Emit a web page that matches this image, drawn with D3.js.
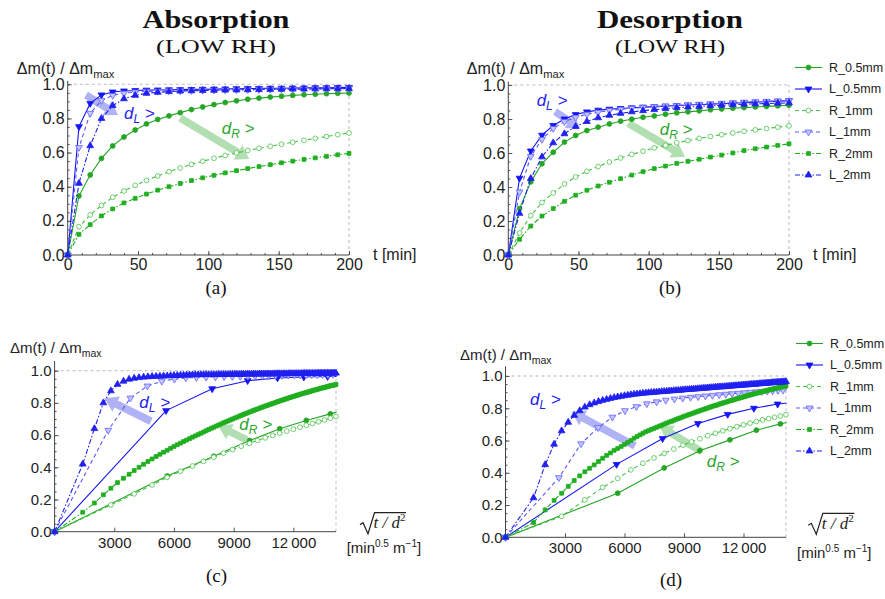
<!DOCTYPE html>
<meta charset="utf-8">
<style>

body {
  margin: 0;
  background: #fff;
}

text {
  font-family: "Liberation Sans", Arial, sans-serif;
}

.serif {
  font-family: "Liberation Serif", "Times New Roman", serif;
}

</style>
<svg width="885" height="599"></svg>
<script src="https://d3js.org/d3.v7.min.js"></script>
<script>

// sampling times (min), shared by every series
var minutes = [0,8,16,24,32,40,48,56,64,72,80,88,96,104,112,120,128,136,144,152,160,168,176,184,192,200,
  208,216,224,232,240,248,256,264,272,280,288,296,304,312,320,328,336,344,352,360,368,376,384,392,400,
  408,416,424,432,440,448,456,464,472,480,488,496,504,512,520,528,536,544,552,560,568,576,584,592,600,
  608,616,624,632,640,648,656,664,672,680,688,696,704,712,720,728,736,744,752,760,768,776,784,792,800];

var seriesNames = ["R_0.5mm", "L_0.5mm", "R_1mm", "L_1mm", "R_2mm", "L_2mm"];
var thicknessMm = [0.5, 0.505, 1.0, 1.05, 2.0, 2.0];

// absorption, dm(t)/dm_max
var absR05 = [0,0.346,0.469,0.566,0.639,0.691,0.732,0.768,0.794,0.815,0.834,0.852,0.867,0.881,0.893,0.903,0.912,0.919,0.925,0.930,0.935,0.939,0.942,0.945,0.947,0.949];
var absL05 = [0,0.752,0.888,0.938,0.955,0.961,0.964,0.966,0.967,0.968,0.969,0.970,0.971,0.972,0.973,0.974,0.975,0.976,0.977,0.977,0.978,0.979,0.980,0.980,0.981,0.982];
var absR1 = [0,0.166,0.235,0.290,0.338,0.375,0.408,0.437,0.463,0.488,0.510,0.531,0.549,0.567,0.583,0.598,0.612,0.625,0.637,0.649,0.661,0.672,0.683,0.694,0.705,0.715];
var absL1 = [0,0.630,0.830,0.905,0.935,0.948,0.955,0.958,0.960,0.962,0.963,0.964,0.965,0.966,0.967,0.968,0.969,0.970,0.971,0.972,0.972,0.973,0.974,0.975,0.975,0.976,0.976,0.977,0.977];
var absR2 = [0,0.121,0.178,0.229,0.270,0.305,0.332,0.357,0.380,0.400,0.419,0.436,0.452,0.467,0.481,0.494,0.506,0.518,0.529,0.540,0.550,0.560,0.569,0.578,0.587,0.595,
  0.603,0.611,0.619,0.627,0.635,0.642,0.649,0.656,0.663,0.669,
  0.676,0.682,0.688,0.694,0.700,0.706,0.711,0.717,0.722,0.728,
  0.733,0.738,0.743,0.748,0.753,0.758,0.762,0.767,0.771,0.776,
  0.780,0.784,0.788,0.792,0.796,0.800,0.804,0.808,0.812,0.816,
  0.819,0.823,0.826,0.830,0.833,0.837,0.840,0.843,0.846,0.850,
  0.853,0.856,0.859,0.862,0.865,0.867,0.870,0.873,0.876,0.879,
  0.881,0.884,0.886,0.889,0.892,0.894,0.896,0.899,0.901,0.904,
  0.906,0.908,0.910,0.912,0.915];
var absL2 = [0,0.420,0.640,0.800,0.875,0.915,0.935,0.947,0.953,0.957,0.960,0.962,0.964,0.965,0.966,0.967,0.968,0.969,0.970,0.971,0.972,0.972,0.973,0.974,0.974,0.975,
  0.975,0.975,0.976,0.976,0.976,0.976,0.976,0.976,0.977,0.977,
  0.977,0.977,0.977,0.977,0.978,0.978,0.978,0.978,0.978,0.978,
  0.979,0.979,0.979,0.979,0.979,0.979,0.979,0.980,0.980,0.980,
  0.980,0.980,0.980,0.980,0.980,0.981,0.981,0.981,0.981,0.981,
  0.981,0.981,0.981,0.982,0.982,0.982,0.982,0.982,0.982,0.982,
  0.982,0.982,0.983,0.983,0.983,0.983,0.983,0.983,0.983,0.983,
  0.983,0.984,0.984,0.984,0.984,0.984,0.984,0.984,0.984,0.984,
  0.984,0.985,0.985,0.985,0.985];

// desorption, dm(t)/dm_max
var desR05 = [0,0.273,0.430,0.537,0.604,0.664,0.703,0.732,0.752,0.771,0.787,0.799,0.810,0.818,0.828,0.836,0.842,0.848,0.854,0.859,0.863,0.867,0.871,0.874,0.877,0.881];
var desL05 = [0,0.452,0.612,0.705,0.762,0.800,0.826,0.842,0.852,0.858,0.862,0.866,0.870,0.873,0.876,0.879,0.882,0.885,0.887,0.890,0.893,0.896,0.899,0.902,0.905,0.908];
var desR1 = [0,0.130,0.232,0.309,0.365,0.418,0.459,0.492,0.520,0.547,0.571,0.592,0.611,0.630,0.645,0.660,0.673,0.686,0.697,0.708,0.718,0.728,0.736,0.744,0.752,0.760];
var desL1 = [0,0.370,0.580,0.680,0.745,0.785,0.810,0.828,0.840,0.850,0.857,0.863,0.868,0.872,0.876,0.880,0.884,0.887,0.890,0.893,0.896,0.899,0.902,0.904,0.906,0.908,0.910,0.912,0.914];
var desR2 = [0,0.092,0.170,0.229,0.273,0.316,0.352,0.381,0.406,0.428,0.449,0.470,0.490,0.508,0.523,0.539,0.551,0.563,0.576,0.588,0.600,0.614,0.625,0.635,0.645,0.654,
  0.661,0.669,0.675,0.682,0.689,0.695,0.702,0.708,0.714,0.719,
  0.725,0.731,0.736,0.741,0.747,0.752,0.757,0.762,0.766,0.771,
  0.776,0.780,0.785,0.789,0.793,0.798,0.802,0.806,0.810,0.814,
  0.817,0.821,0.825,0.829,0.832,0.836,0.839,0.843,0.846,0.849,
  0.852,0.856,0.859,0.862,0.865,0.868,0.871,0.874,0.877,0.880,
  0.882,0.885,0.888,0.890,0.893,0.896,0.898,0.901,0.903,0.906,
  0.908,0.910,0.913,0.915,0.917,0.919,0.922,0.924,0.926,0.928,
  0.930,0.932,0.934,0.936,0.938];
var desL2 = [0,0.245,0.450,0.577,0.660,0.713,0.756,0.785,0.807,0.822,0.833,0.842,0.849,0.855,0.861,0.866,0.870,0.874,0.878,0.881,0.884,0.887,0.889,0.891,0.893,0.895,
  0.896,0.898,0.899,0.900,0.902,0.903,0.904,0.905,0.907,0.908,
  0.909,0.910,0.911,0.912,0.914,0.915,0.916,0.917,0.918,0.919,
  0.920,0.921,0.922,0.923,0.924,0.925,0.926,0.927,0.928,0.929,
  0.930,0.931,0.932,0.933,0.933,0.934,0.935,0.936,0.937,0.938,
  0.939,0.940,0.940,0.941,0.942,0.943,0.944,0.945,0.945,0.946,
  0.947,0.948,0.949,0.949,0.950,0.951,0.952,0.953,0.953,0.954,
  0.955,0.956,0.956,0.957,0.958,0.959,0.959,0.960,0.961,0.961,
  0.962,0.963,0.964,0.964,0.965];

var absorption = [absR05, absL05, absR1, absL1, absR2, absL2];
var desorption = [desR05, desL05, desR1, desL1, desR2, desL2];

var yTicks = [0, 0.2, 0.4, 0.6, 0.8, 1.0];
var timeTicks = [0, 50, 100, 150, 200];
var scaledTicks = [3000, 6000, 9000, 12000];

var svg = d3.select("svg");

var styles = [
  {color: "#25a525", dash: null, shape: "circle", fill: "#25a525", stroke: "#25a525", size: 19},
  {color: "#1414f5", dash: null, shape: "down", fill: "#1414f5", stroke: "#1414f5", size: 20},
  {color: "#46c046", dash: "4,3", shape: "circle", fill: "#fff", stroke: "#4cc44c", size: 18},
  {color: "#5858ff", dash: "4,3", shape: "down", fill: "#c4c4ff", stroke: "#6464ff", size: 20},
  {color: "#1fae1f", dash: "5,2,1.5,2", shape: "square", fill: "#1fae1f", stroke: "#1fae1f", size: 15},
  {color: "#2020f0", dash: "5,2,1.5,2", shape: "up", fill: "#2020f0", stroke: "#2020f0", size: 20}
];

var scaledMax = Math.sqrt(200) / 0.001;

var panels = [
  {id: "a", values: absorption, scaled: false, xMax: 200, box: [67.7, 349, 255, 84.3], yTop: 1.02, font: 16, xPad: 3.6,
   ytitle: [16.7, 74], xtitle: [373, 260],
   arrows: [[13, 0.937, 35.8, 0.82, "L"], [80, 0.803, 129, 0.562, "R"]],
   notes: [[40, 0.795, "L"], [109.5, 0.709, "R"]]},
  {id: "b", values: desorption, scaled: false, xMax: 200, box: [508.3, 789, 255, 85], yTop: 1.02, font: 16, xPad: 3.6,
   ytitle: [466.7, 74], xtitle: [813, 260],
   arrows: [[33.3, 0.843, 51.1, 0.745, "L"], [85.5, 0.775, 125.9, 0.578, "R"]],
   notes: [[20.2, 0.876, "L"], [107.9, 0.706, "R"]]},
  {id: "c", values: absorption, scaled: true, xMax: scaledMax, box: [54.6, 336, 531.7, 370.7], yTop: 1.06, font: 15, xPad: 5.5,
   ytitle: [10, 353], radical: [360, 512.7], units: [346.7, 553],
   arrows: [[4844, 0.686, 2507, 0.829, "L"], [9653, 0.57, 8226, 0.657, "R"]],
   notes: [[4256, 0.766, "L"], [9281, 0.632, "R"]]},
  {id: "d", values: desorption, scaled: true, xMax: scaledMax, box: [505.5, 786, 537.3, 376], yTop: 1.06, font: 15, xPad: 5,
   ytitle: [460, 360], radical: [808.3, 513.3], units: [797, 558],
   arrows: [[6529, 0.566, 3338, 0.779, "L"], [9892, 0.531, 7755, 0.69, "R"]],
   notes: [[1235, 0.82, "L"], [10144, 0.438, "R"]]}
];

var arrowFill = {L: "#a6abf4", R: "#a9dca9"};
var noteColor = {L: "#2424ef", R: "#2ca62c"};

function markerPath(shape, size) {
  var type = shape === "circle" ? d3.symbolCircle : shape === "square" ? d3.symbolSquare : d3.symbolTriangle;
  return d3.symbol().type(type).size(size)();
}

function drawMarker(g, s, px, py) {
  g.append("path")
      .attr("d", markerPath(s.shape, s.size))
      .attr("transform", "translate(" + px + "," + py + ")" + (s.shape === "down" ? " rotate(180)" : ""))
      .attr("fill", s.fill)
      .attr("stroke", s.stroke)
      .attr("stroke-width", 0.8);
}

function drawArrow(g, x1, y1, x2, y2, color) {
  var dx = x2 - x1, dy = y2 - y1, len = Math.sqrt(dx * dx + dy * dy);
  var ux = dx / len, uy = dy / len, nx = -uy, ny = ux;
  var w = 3.8, hw = 8.5, hl = 13;
  var bx = x2 - ux * hl, by = y2 - uy * hl;
  var pts = [
    [x1 + nx * w, y1 + ny * w], [bx + nx * w, by + ny * w], [bx + nx * hw, by + ny * hw],
    [x2, y2],
    [bx - nx * hw, by - ny * hw], [bx - nx * w, by - ny * w], [x1 - nx * w, y1 - ny * w]
  ];
  g.append("path")
      .attr("d", "M" + pts.map(function(p) { return p.join(","); }).join("L") + "Z")
      .attr("fill", color)
      .attr("opacity", 0.9);
}

function drawNote(g, px, py, sub, color) {
  var t = g.append("text")
      .attr("x", px).attr("y", py)
      .attr("fill", color)
      .attr("font-size", 17)
      .attr("font-style", "italic");
  t.append("tspan").text("d");
  t.append("tspan").attr("dy", 4).attr("font-size", 12).text(sub);
  t.append("tspan").attr("dy", -4).text(" >");
}

panels.forEach(function(p) {
  var x = d3.scaleLinear().domain([0, p.xMax]).range([p.box[0], p.box[1]]);
  var y = d3.scaleLinear().domain([0, 1]).range([p.box[2], p.box[3]]);
  var g = svg.append("g");

  // dashed plot-range frame
  g.append("line")
      .attr("x1", x(0)).attr("x2", x(p.xMax)).attr("y1", y(1)).attr("y2", y(1))
      .attr("stroke", "#bbb").attr("stroke-dasharray", "3,3");
  g.append("line")
      .attr("x1", x(p.xMax)).attr("x2", x(p.xMax)).attr("y1", y(0)).attr("y2", y(1))
      .attr("stroke", "#bbb").attr("stroke-dasharray", "3,3");

  // axes
  g.append("g")
      .attr("transform", "translate(" + x(0) + ",0)")
      .attr("color", "#555")
      .call(d3.axisLeft(y).tickValues(d3.range(0, 1.001, 0.05)).tickSize(-2).tickFormat(""))
      .call(function(s) { s.select(".domain").remove(); });

  var ya = g.append("g")
      .attr("transform", "translate(" + x(0) + ",0)")
      .attr("color", "#555")
      .call(d3.axisLeft(y).tickValues(yTicks).tickSize(-4).tickPadding(3).tickFormat(d3.format(".1f")));
  ya.select(".domain").remove();
  ya.attr("font-size", p.font).attr("font-family", "Liberation Sans, Arial, sans-serif");
  ya.selectAll(".tick text").attr("fill", "#222");

  if (!p.scaled) {
    g.append("g")
        .attr("transform", "translate(0," + y(0) + ")")
        .attr("color", "#555")
        .call(d3.axisBottom(x).tickValues(d3.range(0, 201, 10)).tickSize(-2).tickFormat(""))
        .call(function(s) { s.select(".domain").remove(); });
  }

  var xa = g.append("g")
      .attr("transform", "translate(0," + y(0) + ")")
      .attr("color", "#555")
      .call(d3.axisBottom(x)
        .tickValues(p.scaled ? scaledTicks : timeTicks)
        .tickSize(-4)
        .tickPadding(p.xPad)
        .tickFormat(function(d) { return d >= 10000 ? String(d).slice(0, -3) + "\u2009" + String(d).slice(-3) : d; }));
  xa.select(".domain").remove();
  xa.attr("font-size", p.font).attr("font-family", "Liberation Sans, Arial, sans-serif");
  xa.selectAll(".tick text").attr("fill", "#222");

  g.append("line")
      .attr("x1", x(0)).attr("x2", x(0)).attr("y1", y(0)).attr("y2", y(p.yTop))
      .attr("stroke", "#444");
  g.append("line")
      .attr("x1", x(0)).attr("x2", x(p.xMax)).attr("y1", y(0)).attr("y2", y(0))
      .attr("stroke", "#444");

  // arrows behind the data
  p.arrows.forEach(function(a) {
    drawArrow(g, x(a[0]), y(a[1]), x(a[2]), y(a[3]), arrowFill[a[4]]);
  });

  // series
  g.append("clipPath").attr("id", "clip-" + p.id)
    .append("rect")
      .attr("x", x(0) - 1).attr("y", 0)
      .attr("width", x(p.xMax) - x(0) + 1.6).attr("height", 599);

  var line = d3.line()
      .x(function(d) { return x(d[0]); })
      .y(function(d) { return y(d[1]); });

  p.values.forEach(function(vals, i) {
    var s = styles[i];
    var pts = vals.map(function(v, k) {
      var t = minutes[k];
      return [p.scaled ? Math.sqrt(t) / (thicknessMm[i] / 1000) : t, v];
    });
    g.append("path")
        .datum(pts)
        .attr("clip-path", "url(#clip-" + p.id + ")")
        .attr("d", line)
        .attr("fill", "none")
        .attr("stroke", s.color)
        .attr("stroke-width", 1.1)
        .attr("stroke-dasharray", s.dash);
    pts.filter(function(d) { return d[0] <= p.xMax * 1.0005; }).forEach(function(d) {
      drawMarker(g, s, x(d[0]), y(d[1]));
    });
  });

  p.notes.forEach(function(n) {
    drawNote(g, x(n[0]), y(n[1]), n[2], noteColor[n[2]]);
  });

  // axis titles
  var yt = g.append("text")
      .attr("x", p.ytitle[0]).attr("y", p.ytitle[1])
      .attr("font-size", p.font).attr("fill", "#222");
  yt.append("tspan").text("\u0394m(t) / \u0394m");
  yt.append("tspan").attr("dy", 4).attr("font-size", p.font * 0.7).text("max");

  if (p.xtitle) {
    g.append("text")
        .attr("x", p.xtitle[0]).attr("y", p.xtitle[1])
        .attr("font-size", 16).attr("fill", "#222")
        .text("t [min]");
  }

  if (p.radical) {
    var rx = p.radical[0], ry = p.radical[1];
    g.append("path")
        .attr("d", "M" + rx + "," + (ry + 12) + " l3,-2 l5,11 l6.5,-21 H" + (rx + 46))
        .attr("fill", "none").attr("stroke", "#222").attr("stroke-width", 1.2);
    var rt = g.append("text")
        .attr("class", "serif")
        .attr("x", rx + 13.5).attr("y", ry + 15.5)
        .attr("font-size", 17).attr("font-style", "italic").attr("fill", "#222");
    rt.append("tspan").text("t / d");
    rt.append("tspan").attr("dy", -7).attr("font-size", 11).attr("font-style", "normal").text("2");

    var ut = g.append("text")
        .attr("x", p.units[0]).attr("y", p.units[1])
        .attr("font-size", 15).attr("fill", "#222");
    ut.append("tspan").text("[min");
    ut.append("tspan").attr("dy", -6).attr("font-size", 10).text("0.5");
    ut.append("tspan").attr("dy", 6).text(" m");
    ut.append("tspan").attr("dy", -6).attr("font-size", 10).text("\u22121");
    ut.append("tspan").attr("dy", 6).text("]");
  }
});

// titles and panel letters
function serifText(px, py, size, str, weight, width) {
  var t = svg.append("text")
      .attr("class", "serif")
      .attr("x", px).attr("y", py)
      .attr("text-anchor", "middle")
      .attr("font-size", size)
      .attr("font-weight", weight)
      .attr("fill", "#111")
      .text(str);
  if (width) t.attr("textLength", width).attr("lengthAdjust", "spacingAndGlyphs");
}

serifText(216, 28.3, 26, "Absorption", "bold", 147);
serifText(216, 52.5, 19, "(LOW RH)", "normal", 120);
serifText(670, 28.3, 26, "Desorption", "bold", 146);
serifText(670, 52.5, 19, "(LOW RH)", "normal", 110);
serifText(216, 294, 19, "(a)", "normal");
serifText(670, 294, 19, "(b)", "normal");
serifText(216.5, 582, 19, "(c)", "normal");
serifText(671, 586, 19, "(d)", "normal");

// legends
function legend(lx, ly) {
  var g = svg.append("g");
  seriesNames.forEach(function(name, i) {
    var s = styles[i], yy = ly + i * 21.5;
    g.append("line")
        .attr("x1", lx).attr("x2", lx + 27).attr("y1", yy).attr("y2", yy)
        .attr("stroke", s.color).attr("stroke-width", 1.1)
        .attr("stroke-dasharray", s.dash);
    drawMarker(g, s, lx + 13.5, yy);
    g.append("text")
        .attr("x", lx + 34).attr("y", yy).attr("dy", "0.35em")
        .attr("font-size", 12.5).attr("fill", "#222")
        .text(name);
  });
}

legend(795, 67.5);
legend(796, 343.5);

</script>
